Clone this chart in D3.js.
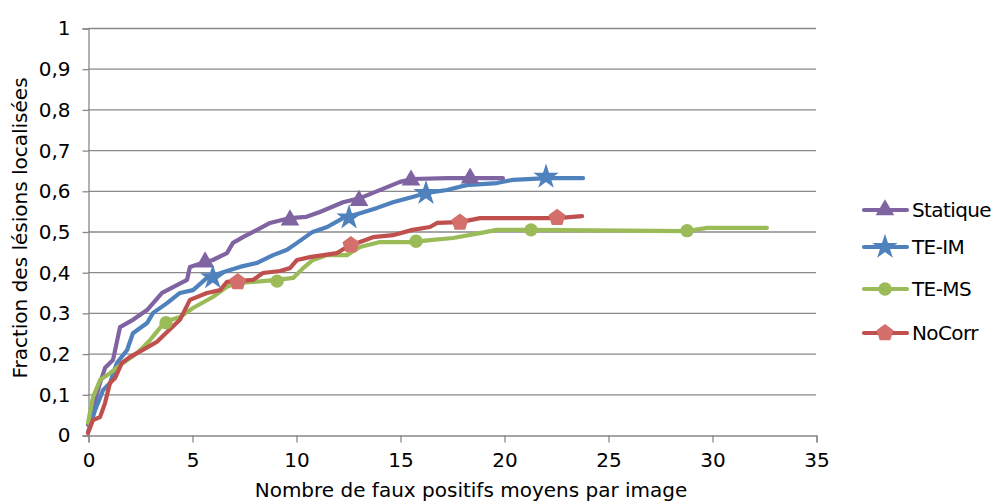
<!DOCTYPE html>
<html><head><meta charset="utf-8">
<script src="https://cdn.jsdelivr.net/npm/d3@7"></script>
<style>body{margin:0;background:#fff}svg{display:block}text{font-family:"DejaVu Sans",sans-serif;fill:#000}</style>
</head><body><svg id="c" width="995" height="503"></svg>
<script>
const xTicks = [0,5,10,15,20,25,30,35];
const yTicks = [0,0.1,0.2,0.3,0.4,0.5,0.6,0.7,0.8,0.9,1];
const yTickLabels = ["0","0,1","0,2","0,3","0,4","0,5","0,6","0,7","0,8","0,9","1"];
const seriesNames = ["Statique","TE-IM","TE-MS","NoCorr"];

const statique = [[0,0.025],[0.58,0.128],[0.82,0.165],[1.2,0.184],[1.54,0.265],[2.16,0.283],[2.84,0.307],[3.56,0.349],[4.76,0.381],[4.9,0.413],[5.53,0.423],[6.0,0.43],[6.68,0.447],[6.97,0.472],[7.45,0.486],[8.13,0.504],[8.75,0.521],[9.71,0.533],[10.5,0.536],[11.15,0.548],[12.26,0.572],[13.08,0.582],[14.38,0.609],[15.0,0.622],[15.6,0.629],[17.3,0.631],[19.95,0.631]];
const teIM = [[0,0.007],[0.34,0.061],[0.72,0.11],[1.06,0.128],[1.39,0.177],[1.88,0.209],[2.16,0.25],[2.84,0.275],[3.13,0.3],[3.8,0.324],[4.42,0.349],[5.05,0.356],[5.72,0.386],[6.49,0.4],[7.3,0.413],[8.13,0.423],[8.9,0.442],[9.57,0.455],[10.05,0.472],[10.8,0.499],[11.5,0.511],[12.26,0.533],[13.08,0.545],[13.9,0.558],[14.66,0.572],[15.6,0.585],[16.3,0.595],[17.26,0.602],[18.2,0.614],[19.66,0.619],[20.43,0.627],[22.07,0.631],[23.8,0.631]];
const teMS = [[0,0.03],[0.24,0.093],[0.58,0.135],[1.06,0.152],[1.68,0.177],[2.36,0.201],[2.98,0.233],[3.7,0.278],[4.42,0.29],[5.05,0.312],[6.0,0.339],[6.68,0.364],[7.16,0.373],[7.93,0.376],[9.09,0.381],[9.86,0.386],[10.34,0.41],[10.82,0.43],[11.5,0.442],[12.45,0.442],[13.08,0.462],[14.04,0.474],[15.6,0.474],[16.44,0.479],[17.55,0.484],[18.85,0.496],[19.66,0.504],[21.25,0.504],[28.8,0.501],[29.76,0.509],[32.64,0.509]];
const noCorr = [[0,0.005],[0.24,0.037],[0.58,0.044],[0.82,0.079],[1.06,0.128],[1.3,0.14],[1.63,0.177],[2.02,0.192],[2.64,0.209],[3.32,0.229],[3.8,0.253],[4.42,0.283],[4.9,0.332],[5.72,0.349],[6.35,0.356],[6.68,0.376],[7.93,0.381],[8.41,0.398],[9.23,0.403],[9.71,0.41],[10.05,0.43],[10.67,0.437],[11.97,0.447],[12.45,0.462],[13.08,0.474],[13.7,0.486],[14.66,0.491],[15.6,0.504],[16.44,0.511],[16.78,0.521],[17.88,0.523],[18.85,0.533],[22.55,0.533],[23.75,0.538]];

const statiqueMarkers = [[5.63,0.425],[9.71,0.528],[13.03,0.576],[15.53,0.626],[18.37,0.631]];
const teIMMarkers = [[6.0,0.387],[12.55,0.534],[16.25,0.594],[22.02,0.634]];
const teMSMarkers = [[3.75,0.276],[9.09,0.378],[15.77,0.476],[21.3,0.504],[28.8,0.502]];
const noCorrMarkers = [[7.2,0.376],[12.64,0.467],[17.88,0.522],[22.55,0.534]];

const colors = ["#8064A2","#4F81BD","#9BBB59","#C0504D"];
const markerColors = ["#8064A2","#4F81BD","#9BBB59","#D46F6C"];
const allSeries = [statique, teIM, teMS, noCorr];
const allMarkers = [statiqueMarkers, teIMMarkers, teMSMarkers, noCorrMarkers];

const svg = d3.select("#c");
const x = d3.scaleLinear().domain([0,35]).range([88,816]);
const y = d3.scaleLinear().domain([0,1]).range([435,28]);

svg.append("g").selectAll("line").data(yTicks.slice(1)).join("line")
  .attr("x1",88).attr("x2",816).attr("y1",d=>y(d)+0.5).attr("y2",d=>y(d)+0.5)
  .attr("stroke","#888").attr("stroke-width",1.3);

const yAxis = d3.axisLeft(y).tickValues(yTicks).tickSize(6).tickPadding(12).tickFormat((d,i)=>yTickLabels[i]);
const gy = svg.append("g").attr("transform","translate(88.5,0.5)").call(yAxis);
gy.selectAll("path,line").attr("stroke","#888").attr("stroke-width",1.3);
gy.selectAll("text").style("font-size","20px").attr("font-family","DejaVu Sans");

const xAxis = d3.axisBottom(x).tickValues(xTicks).tickSize(7).tickPadding(10);
const gx = svg.append("g").attr("transform","translate(0.5,435.5)").call(xAxis);
gx.selectAll("path,line").attr("stroke","#888").attr("stroke-width",1.3);
gx.selectAll("text").style("font-size","20px").attr("font-family","DejaVu Sans");

const pentagon = {draw(ctx,size){const r=Math.sqrt(size/2.378);for(let i=0;i<5;i++){const a=-Math.PI/2+i*2*Math.PI/5;const px=r*Math.cos(a),py=r*Math.sin(a);i?ctx.lineTo(px,py):ctx.moveTo(px,py);}ctx.closePath();}};
const symbols = [d3.symbolTriangle, d3.symbolStar, d3.symbolCircle, pentagon];
const sizes = [150,200,140,190];

const line = d3.line().x(d=>x(d[0])).y(d=>y(d[1])).curve(d3.curveLinear);
allSeries.forEach((s,i)=>{
  svg.append("path").datum(s).attr("d",line).attr("fill","none")
    .attr("stroke",colors[i]).attr("stroke-width",4.2).attr("stroke-linejoin","round").attr("stroke-linecap","round");
});
allMarkers.forEach((m,i)=>{
  svg.append("g").selectAll("path").data(m).join("path")
    .attr("transform",d=>`translate(${x(d[0])},${y(d[1])})`)
    .attr("d",d3.symbol().type(symbols[i]).size(sizes[i]))
    .attr("fill",markerColors[i]);
});

const legY = [210,247,289,333];
seriesNames.forEach((n,i)=>{
  const g = svg.append("g").attr("transform",`translate(0,${legY[i]})`);
  g.append("line").attr("x1",864).attr("x2",907).attr("stroke",colors[i]).attr("stroke-width",4.2).attr("stroke-linecap","round");
  g.append("path").attr("transform","translate(885,0)").attr("d",d3.symbol().type(symbols[i]).size(sizes[i])).attr("fill",markerColors[i]);
  g.append("text").attr("x",912).attr("y",0).attr("dy","0.35em").style("font-size","20px").style("letter-spacing","-0.6px").text(n);
});

svg.append("text").attr("x",471).attr("y",497).attr("text-anchor","middle").style("font-size","20px").text("Nombre de faux positifs moyens par image");
svg.append("text").attr("transform","translate(27,228) rotate(-90)").attr("text-anchor","middle").style("font-size","20px").text("Fraction des lésions localisées");
</script></body></html>
